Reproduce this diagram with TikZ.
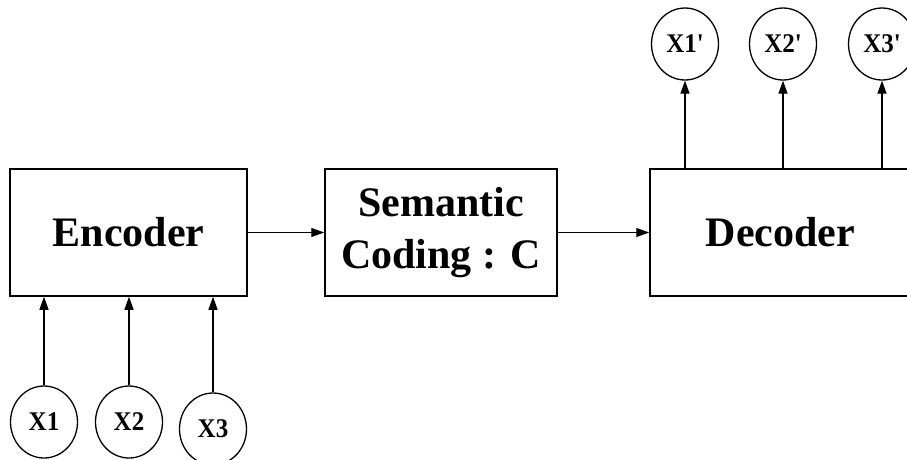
\documentclass[tikz,border=0pt]{standalone}
\usepackage{fontspec}
\setmainfont{Liberation Serif}
% label font without TeX quote mapping, so ' stays a straight quote
\newfontfamily\labfont{Liberation Serif}[Ligatures=TeXOff]
\usetikzlibrary{arrows.meta,shapes.geometric}
\newcommand{\tallbox}[1]{\scalebox{1}[1.08]{#1}}
\begin{document}
\begin{tikzpicture}[x=1pt,y=-1pt,
  blk/.style={draw, line width=1.5pt, minimum height=127pt, inner sep=0pt,
    font=\fontsize{42}{52}\selectfont\bfseries, align=center},
  var/.style={draw, ellipse, line width=1.3pt, minimum width=67pt,
    minimum height=72pt, inner sep=0pt, font=\labfont\fontsize{25}{28}\selectfont\bfseries},
  arr/.style={-{Triangle[length=13pt,width=9pt]}, line width=1.3pt}]
\useasboundingbox (0,0) rectangle (907,459);

% main processing blocks
\node[blk, minimum width=237pt] (enc) at (128.5,232.5) {Encoder};
\node[blk, minimum width=232pt] (sem) at (441,232.5) {Semantic\\Coding : C};
\node[blk, minimum width=261pt] (dec) at (780.5,232.5) {Decoder};

% inputs
\node[var] (x1) at (44,422) {\tallbox{X1}};
\node[var] (x2) at (129,422) {\tallbox{X2}};
\node[var] (x3) at (213,429) {\tallbox{X3}};

% outputs
\node[var] (y1) at (685,44) {\tallbox{X1'}};
\node[var] (y2) at (783,44) {\tallbox{X2'}};
\node[var] (y3) at (882,44) {\tallbox{X3'}};

% connections
\draw[arr] (enc.east) -- (sem.west);
\draw[arr] (sem.east) -- (dec.west);
\foreach \v in {x1,x2,x3}
  \draw[arr] (\v.north) -- (\v.north |- enc.south);
\foreach \v in {y1,y2,y3}
  \draw[arr] (\v.south |- dec.north) -- (\v.south);
\end{tikzpicture}
\end{document}
